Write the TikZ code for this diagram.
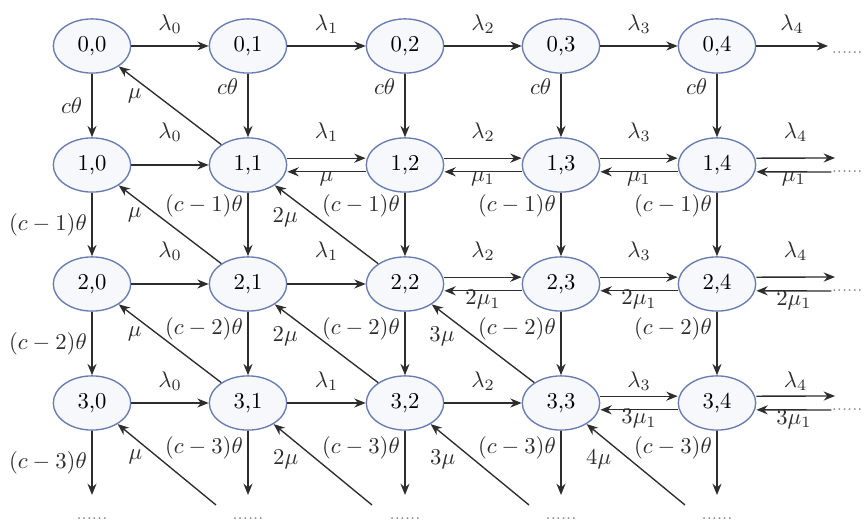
\documentclass[tikz,border=0pt]{standalone}
\usepackage{amsmath}
\definecolor{stblue}{RGB}{104,124,176}
\definecolor{stfill}{RGB}{246,248,252}
\definecolor{arrgray}{RGB}{45,45,45}
\usetikzlibrary{arrows.meta,shapes.geometric}

\begin{document}
\begin{tikzpicture}[x=0.0155cm, y=-0.0155cm,
  stnode/.style={draw=stblue, fill=stfill, ellipse, minimum width=1.2cm, minimum height=0.84cm, inner sep=0pt, line width=0.6pt},
  arr/.style={arrgray, line width=0.6pt, -{Stealth[length=5pt,width=4pt]}},
  lab/.style={inner sep=1pt},
  more/.style={font=\scriptsize, text=gray, inner sep=0pt}]
\useasboundingbox (0,0) rectangle (864,524);

% states
\node[stnode] (n00) at (92,46) {0,0};
\node[stnode] (n01) at (248,46) {0,1};
\node[stnode] (n02) at (405,46) {0,2};
\node[stnode] (n03) at (561,46) {0,3};
\node[stnode] (n04) at (717,46) {0,4};
\node[stnode] (n10) at (92,165) {1,0};
\node[stnode] (n11) at (248,165) {1,1};
\node[stnode] (n12) at (405,165) {1,2};
\node[stnode] (n13) at (561,165) {1,3};
\node[stnode] (n14) at (717,165) {1,4};
\node[stnode] (n20) at (92,284) {2,0};
\node[stnode] (n21) at (248,284) {2,1};
\node[stnode] (n22) at (405,284) {2,2};
\node[stnode] (n23) at (561,284) {2,3};
\node[stnode] (n24) at (717,284) {2,4};
\node[stnode] (n30) at (92,403) {3,0};
\node[stnode] (n31) at (248,403) {3,1};
\node[stnode] (n32) at (405,403) {3,2};
\node[stnode] (n33) at (561,403) {3,3};
\node[stnode] (n34) at (717,403) {3,4};

% dots on the right and at the bottom
\node[more, anchor=east] (m0) at (863,53) {......};
\node[more, anchor=east] (m1) at (863,172) {......};
\node[more, anchor=east] (m2) at (863,291) {......};
\node[more, anchor=east] (m3) at (863,410) {......};
\node[more] (b0) at (92,519) {......};
\node[more] (b1) at (248,519) {......};
\node[more] (b2) at (405,519) {......};
\node[more] (b3) at (561,519) {......};
\node[more] (b4) at (717,519) {......};

% free ends
\coordinate (r0) at (828,46);
\coordinate (r1) at (835,158);
\coordinate (r2) at (835,277);
\coordinate (r3) at (835,396);
\foreach \j/\x in {0/92,1/248,2/405,3/561,4/717}
  \coordinate (d\j) at (\x,495);
\coordinate (e0) at (216,505);
\coordinate (e1) at (372,505);
\coordinate (e2) at (529,505);
\coordinate (e3) at (685,505);

% row 0
\draw[arr] (n00) -- node[lab, above=4pt]{$\lambda_0$} (n01);
\draw[arr] (n01) -- node[lab, above=4pt]{$\lambda_1$} (n02);
\draw[arr] (n02) -- node[lab, above=4pt]{$\lambda_2$} (n03);
\draw[arr] (n03) -- node[lab, above=4pt]{$\lambda_3$} (n04);
\draw[arr] (n04) -- node[lab, above=4pt]{$\lambda_4$} (r0);

% row 1
\draw[arr] (n10) -- node[lab, above=9pt]{$\lambda_0$} (n11);
\draw[arr] ([yshift=3pt]n11.east) -- node[lab, above=6pt]{$\lambda_1$} ([yshift=3pt]n12.west);
\draw[arr] ([yshift=-3pt]n12.west) -- node[lab, below=-1.5pt]{$\mu$} ([yshift=-3pt]n11.east);
\draw[arr] ([yshift=3pt]n12.east) -- node[lab, above=6pt]{$\lambda_2$} ([yshift=3pt]n13.west);
\draw[arr] ([yshift=-3pt]n13.west) -- node[lab, below=-1.5pt]{$\mu_1$} ([yshift=-3pt]n12.east);
\draw[arr] ([yshift=3pt]n13.east) -- node[lab, above=6pt]{$\lambda_3$} ([yshift=3pt]n14.west);
\draw[arr] ([yshift=-3pt]n14.west) -- node[lab, below=-1.5pt]{$\mu_1$} ([yshift=-3pt]n13.east);
\draw[arr] ([yshift=3pt]n14.east) -- node[lab, above=6pt]{$\lambda_4$} (r1);
\draw[arr] (m1.west) -- node[lab, below=-1.5pt]{$\mu_1$} ([yshift=-3pt]n14.east);

% row 2
\draw[arr] (n20) -- node[lab, above=9pt]{$\lambda_0$} (n21);
\draw[arr] (n21) -- node[lab, above=9pt]{$\lambda_1$} (n22);
\draw[arr] ([yshift=3pt]n22.east) -- node[lab, above=6pt]{$\lambda_2$} ([yshift=3pt]n23.west);
\draw[arr] ([yshift=-3pt]n23.west) -- node[lab, below=-1.5pt]{$2\mu_1$} ([yshift=-3pt]n22.east);
\draw[arr] ([yshift=3pt]n23.east) -- node[lab, above=6pt]{$\lambda_3$} ([yshift=3pt]n24.west);
\draw[arr] ([yshift=-3pt]n24.west) -- node[lab, below=-1.5pt]{$2\mu_1$} ([yshift=-3pt]n23.east);
\draw[arr] ([yshift=3pt]n24.east) -- node[lab, above=6pt]{$\lambda_4$} (r2);
\draw[arr] (m2.west) -- node[lab, below=-1.5pt]{$2\mu_1$} ([yshift=-3pt]n24.east);

% row 3
\draw[arr] (n30) -- node[lab, above=4pt]{$\lambda_0$} (n31);
\draw[arr] (n31) -- node[lab, above=4pt]{$\lambda_1$} (n32);
\draw[arr] (n32) -- node[lab, above=4pt]{$\lambda_2$} (n33);
\draw[arr] ([yshift=3pt]n33.east) -- node[lab, above=1pt]{$\lambda_3$} ([yshift=3pt]n34.west);
\draw[arr] ([yshift=-3pt]n34.west) -- node[lab, below=-1.5pt]{$3\mu_1$} ([yshift=-3pt]n33.east);
\draw[arr] ([yshift=3pt]n34.east) -- node[lab, above=1pt]{$\lambda_4$} (r3);
\draw[arr] (m3.west) -- node[lab, below=-1.5pt]{$3\mu_1$} ([yshift=-3pt]n34.east);

% column 0
\draw[arr] (n00) -- node[lab, left=3pt]{$c\theta$} (n10);
\draw[arr] (n10) -- node[lab, left=1pt]{$(c-1)\theta$} (n20);
\draw[arr] (n20) -- node[lab, left=1pt]{$(c-2)\theta$} (n30);
\draw[arr] (n30) -- node[lab, left=1pt]{$(c-3)\theta$} (d0);

% columns 1 to 4
\foreach \j in {1,2,3,4}{
  \draw[arr] (n0\j) -- node[lab, pos=0.2, left=3pt]{$c\theta$} (n1\j);
  \draw[arr] (n1\j) -- node[lab, pos=0.2, left=1pt]{$(c-1)\theta$} (n2\j);
  \draw[arr] (n2\j) -- node[lab, pos=0.27, left=1pt]{$(c-2)\theta$} (n3\j);
  \draw[arr] (n3\j) -- node[lab, pos=0.27, left=1pt]{$(c-3)\theta$} (d\j);
}

% diagonals
\draw[arr] (n11) -- node[lab, pos=0.75, below left=0pt]{$\mu$} (n00);
\draw[arr] (n21) -- node[lab, pos=0.75, below left=0pt]{$\mu$} (n10);
\draw[arr] (n22) -- node[lab, pos=0.75, below left=0pt]{$2\mu$} (n11);
\draw[arr] (n31) -- node[lab, pos=0.75, below left=0pt]{$\mu$} (n20);
\draw[arr] (n32) -- node[lab, pos=0.75, below left=0pt]{$2\mu$} (n21);
\draw[arr] (n33) -- node[lab, pos=0.75, below left=0pt]{$3\mu$} (n22);
\draw[arr] (e0) -- node[lab, pos=0.72, below left=0pt]{$\mu$} (n30);
\draw[arr] (e1) -- node[lab, pos=0.72, below left=0pt]{$2\mu$} (n31);
\draw[arr] (e2) -- node[lab, pos=0.72, below left=0pt]{$3\mu$} (n32);
\draw[arr] (e3) -- node[lab, pos=0.72, below left=0pt]{$4\mu$} (n33);
\end{tikzpicture}
\end{document}
